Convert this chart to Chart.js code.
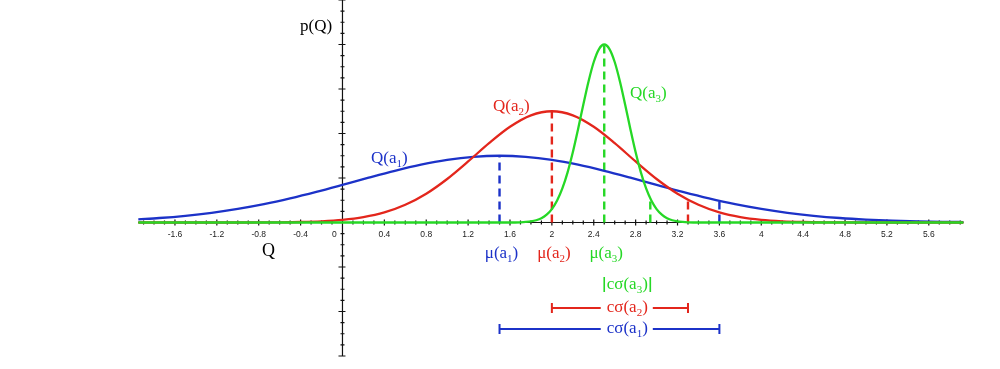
<!DOCTYPE html>
<html>
<head>
<meta charset="utf-8">
<script src="https://cdn.jsdelivr.net/npm/chart.js@4.4.1/dist/chart.umd.min.js"></script>
<style>
  html, body { margin: 0; padding: 0; background: #fff; }
  #wrap { width: 1000px; height: 369px; position: relative; }
</style>
</head>
<body>
<div id="wrap"><canvas id="normal_chart"></canvas></div>
<script>
// Q values and p(Q) heights (y in tick units)
var blue_q = [-1.95, -1.75, -1.5, -1.25, -1, -0.75, -0.5, -0.25, 0, 0.25, 0.5, 0.75, 1, 1.25, 1.5,
              1.75, 2, 2.25, 2.5, 2.75, 3, 3.25, 3.5, 3.75, 4, 4.25, 4.5, 4.75, 5, 5.25, 5.5, 5.75, 5.93];
var blue_p = [0.072, 0.101, 0.151, 0.218, 0.305, 0.412, 0.541, 0.687, 0.845, 1.007, 1.162, 1.299, 1.407, 1.476, 1.5,
              1.476, 1.407, 1.299, 1.162, 1.007, 0.845, 0.687, 0.541, 0.412, 0.305, 0.218, 0.151, 0.101, 0.066, 0.042, 0.025, 0.015, 0.010];

var red_q = [-1.95, -1, -0.6, -0.4, -0.2, 0, 0.2, 0.4, 0.6, 0.8, 1, 1.2, 1.4, 1.6, 1.8, 2,
             2.2, 2.4, 2.6, 2.8, 3, 3.2, 3.4, 3.6, 3.8, 4, 4.2, 4.4, 4.6, 5, 5.93];
var red_p = [0, 0, 0.004, 0.011, 0.027, 0.059, 0.120, 0.226, 0.398, 0.647, 0.978, 1.371, 1.783, 2.151, 2.408, 2.5,
             2.408, 2.151, 1.783, 1.371, 0.978, 0.647, 0.398, 0.226, 0.120, 0.059, 0.027, 0.011, 0.004, 0, 0];

var green_q = [-1.95, 1.6, 1.7, 1.75, 1.8, 1.85, 1.9, 1.95, 2, 2.05, 2.1, 2.15, 2.2, 2.25, 2.3, 2.35, 2.4, 2.45, 2.5,
               2.55, 2.6, 2.65, 2.7, 2.75, 2.8, 2.85, 2.9, 2.95, 3, 3.05, 3.1, 3.15, 3.2, 3.25, 3.3, 3.4, 5.93];
var green_p = [0, 0, 0.005, 0.012, 0.025, 0.051, 0.097, 0.176, 0.302, 0.494, 0.766, 1.128, 1.578, 2.097, 2.646, 3.170, 3.607, 3.898, 4.0,
               3.898, 3.607, 3.170, 2.646, 2.097, 1.578, 1.128, 0.766, 0.494, 0.302, 0.176, 0.097, 0.051, 0.025, 0.012, 0.005, 0, 0];

// means, c*sigma widths, peak heights and heights at mu + c*sigma  (a1, a2, a3)
var mu = [1.5, 2, 2.5];
var c_sigma = [2.1, 1.3, 0.44];
var peak = [1.5, 2.5, 4.0];
var edge_height = [0.49, 0.51, 0.47];

var x_tick_labels = ['-1.6', '-1.2', '-0.8', '-0.4', '0', '0.4', '0.8', '1.2', '1.6', '2', '2.4', '2.8',
                     '3.2', '3.6', '4', '4.4', '4.8', '5.2', '5.6'];

var colors = ['#1c32c8', '#e3261c', '#26d826'];
var serif = '"Liberation Serif", "Times New Roman", serif';

function points(xs, ys) {
  var out = [];
  for (var i = 0; i < xs.length; i++) out.push({x: xs[i], y: ys[i]});
  return out;
}

function curve(data, color, order) {
  return {
    data: data, borderColor: color, borderWidth: 2.3, pointRadius: 0,
    cubicInterpolationMode: 'monotone', fill: false, order: order
  };
}

function dashed(x, top, color) {
  return {
    data: [{x: x, y: 0}, {x: x, y: top}], borderColor: color, borderWidth: 2.4,
    borderDash: [8, 5], pointRadius: 0, fill: false, order: 5
  };
}

// text with a subscript, e.g. Q(a + 1 + )
function subText(ctx, pre, sub, post, x, y, size, align) {
  var big = size + 'px ' + serif, small = Math.round(size * 0.62) + 'px ' + serif;
  ctx.font = big; var w1 = ctx.measureText(pre).width, w3 = ctx.measureText(post).width;
  ctx.font = small; var w2 = ctx.measureText(sub).width;
  var total = w1 + w2 + w3;
  var sx = align === 'center' ? x - total / 2 : x;
  ctx.textAlign = 'left'; ctx.textBaseline = 'alphabetic';
  ctx.font = big; ctx.fillText(pre, sx, y);
  ctx.font = small; ctx.fillText(sub, sx + w1, y + 4);
  ctx.font = big; ctx.fillText(post, sx + w1 + w2, y);
  return [sx, sx + total];
}

var axesPlugin = {
  id: 'axes',
  beforeDatasetsDraw: function(chart) {
    var ctx = chart.ctx, xs = chart.scales.x, ys = chart.scales.y;
    var x0 = xs.getPixelForValue(0), y0 = ys.getPixelForValue(0);
    ctx.save();
    ctx.strokeStyle = '#111';
    ctx.lineWidth = 1.2;
    // vertical axis
    ctx.beginPath();
    ctx.moveTo(x0, ys.getPixelForValue(5));
    ctx.lineTo(x0, ys.getPixelForValue(-3));
    for (var v = -3; v <= 5.001; v += 0.25) {
      var py = ys.getPixelForValue(v);
      var major = Math.abs(v - Math.round(v)) < 0.01;
      ctx.moveTo(x0 - (major ? 4 : 2), py);
      ctx.lineTo(x0 + (major ? 3 : 2), py);
    }
    // horizontal axis
    ctx.moveTo(xs.getPixelForValue(-1.95), y0);
    ctx.lineTo(xs.getPixelForValue(5.93), y0);
    for (var k = -19; k <= 59; k++) {
      var px = xs.getPixelForValue(k / 10);
      var big = k % 4 === 0;
      ctx.moveTo(px, y0 - (big ? 3 : 2));
      ctx.lineTo(px, y0 + (big ? 3 : 2));
    }
    ctx.stroke();
    // tick labels
    ctx.fillStyle = '#222';
    ctx.font = '8.5px "Liberation Sans", Arial, sans-serif';
    ctx.textAlign = 'center';
    ctx.textBaseline = 'alphabetic';
    x_tick_labels.forEach(function(t) {
      var px = xs.getPixelForValue(parseFloat(t));
      if (t === '0') px -= 8;
      ctx.fillText(t, px, y0 + 14);
    });
    ctx.restore();
  },
  afterDatasetsDraw: function(chart) {
    var ctx = chart.ctx, xs = chart.scales.x;
    ctx.save();
    ctx.fillStyle = '#000';
    ctx.font = '17px ' + serif;
    ctx.textAlign = 'left';
    ctx.fillText('p(Q)', 300, 31);
    ctx.font = '18px ' + serif;
    ctx.fillText('Q', 262, 256);

    // curve names
    var name_pos = [[371, 163], [493, 111], [630, 98]];
    for (var i = 0; i < 3; i++) {
      ctx.fillStyle = colors[i];
      subText(ctx, 'Q(a', String(i + 1), ')', name_pos[i][0], name_pos[i][1], 17, 'left');
      subText(ctx, '\u03bc(a', String(i + 1), ')', xs.getPixelForValue(mu[i]) + 2, 258, 17, 'center');
    }

    // c*sigma brackets
    var cx = xs.getPixelForValue(mu[2] + c_sigma[2] / 2);
    var rows = [333, 312, 289];
    for (var j = 2; j >= 0; j--) {
      var yb = rows[j];
      var xa = xs.getPixelForValue(mu[j]), xb = xs.getPixelForValue(mu[j] + c_sigma[j]);
      ctx.fillStyle = colors[j];
      ctx.strokeStyle = colors[j];
      var span = subText(ctx, 'c\u03c3(a', String(j + 1), ')', cx, yb, 17, 'center');
      if (j === 2) {
        ctx.lineWidth = 1.6;
        ctx.beginPath();
        ctx.moveTo(xa, yb - 12); ctx.lineTo(xa, yb + 3);
        ctx.moveTo(xb, yb - 12); ctx.lineTo(xb, yb + 3);
        ctx.stroke();
      } else {
        var ly = yb - 4;
        ctx.lineWidth = 2;
        ctx.beginPath();
        ctx.moveTo(xa, ly); ctx.lineTo(span[0] - 6, ly);
        ctx.moveTo(span[1] + 5, ly); ctx.lineTo(xb, ly);
        ctx.moveTo(xa, ly - 5); ctx.lineTo(xa, ly + 5);
        ctx.moveTo(xb, ly - 5); ctx.lineTo(xb, ly + 5);
        ctx.stroke();
      }
    }
    ctx.restore();
  }
};

var datasets = [
  curve(points(green_q, green_p), colors[2], 0),
  curve(points(red_q, red_p), colors[1], 1),
  curve(points(blue_q, blue_p), colors[0], 2)
];
for (var i = 0; i < 3; i++) {
  datasets.push(dashed(mu[i], peak[i], colors[i]));
  datasets.push(dashed(mu[i] + c_sigma[i], edge_height[i], colors[i]));
}

var ctx = document.getElementById('normal_chart');

var normalChart = new Chart(ctx, {
  type: 'line',
  data: { datasets: datasets },
  options: {
    responsive: true,
    maintainAspectRatio: false,
    animation: false,
    layout: { padding: 0 },
    plugins: { legend: { display: false }, tooltip: { enabled: false } },
    scales: {
      x: { type: 'linear', min: -3.271, max: 6.28, display: false },
      y: { type: 'linear', min: -3.292, max: 5.0, display: false }
    }
  },
  plugins: [axesPlugin]
});
</script>
</body>
</html>
